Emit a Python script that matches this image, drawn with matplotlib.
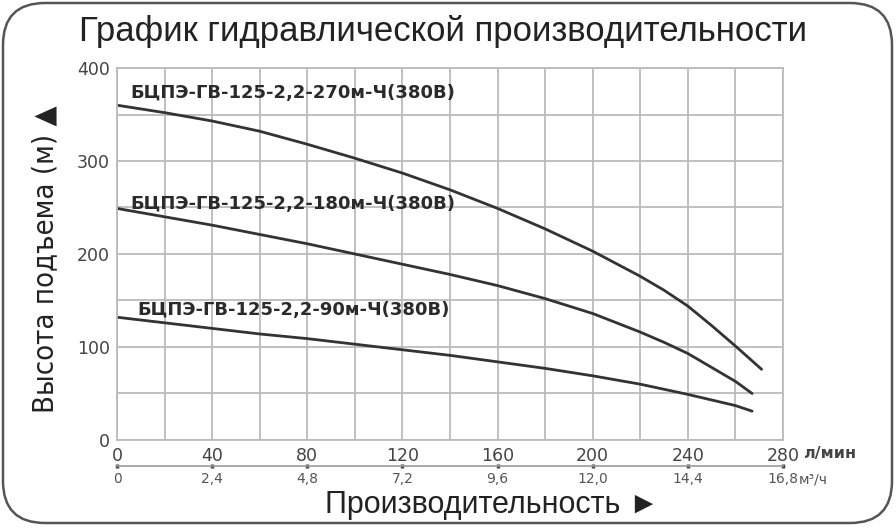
import matplotlib.pyplot as plt
from matplotlib.patches import FancyBboxPatch

# расход, л/мин  и  напор, м
q_270 = [0, 20, 40, 60, 80, 100, 120, 140, 160, 180, 200, 220, 230, 240, 250, 260, 271]
h_270 = [360, 352, 343, 332, 318, 303, 287, 269, 249, 227, 203, 176, 161, 144, 123, 101, 76]

q_180 = [0, 20, 40, 60, 80, 100, 120, 140, 160, 180, 200, 220, 230, 240, 250, 260, 267]
h_180 = [249, 240, 231, 221, 211, 200, 189, 178, 166, 152, 136, 116, 105, 93, 78, 63, 50]

q_90 = [0, 20, 40, 60, 80, 100, 120, 140, 160, 180, 200, 220, 240, 250, 260, 267]
h_90 = [132, 126, 120, 114, 109, 103, 97, 91, 84, 77, 69, 60, 49, 43, 37, 31]

names = ["БЦПЭ-ГВ-125-2,2-270м-Ч(380В)",
         "БЦПЭ-ГВ-125-2,2-180м-Ч(380В)",
         "БЦПЭ-ГВ-125-2,2-90м-Ч(380В)"]
name_pos = [(5.5, 373), (5.5, 254), (8.5, 140)]

x_ticks = list(range(0, 281, 20))
y_ticks = list(range(0, 401, 50))
m3_ticks = [0, 2.4, 4.8, 7.2, 9.6, 12.0, 14.4, 16.8]
m3_labels = ["0", "2,4", "4,8", "7,2", "9,6", "12,0", "14,4", "16,8"]

fig = plt.figure(figsize=(8.96, 5.28), dpi=100)

# рамка со скруглёнными углами
bg = fig.add_axes([0, 0, 1, 1])
bg.set_xlim(0, 896)
bg.set_ylim(528, 0)
bg.axis("off")
bg.add_patch(FancyBboxPatch((3, 3), 889, 520, boxstyle="round,pad=0,rounding_size=42",
                            fc="white", ec="#555555", lw=1.8))

ax = fig.add_axes([0.1306, 0.1667, 0.7433, 0.7045])
ax.set_facecolor("white")

for q, h in [(q_270, h_270), (q_180, h_180), (q_90, h_90)]:
    ax.plot(q, h, color="#333333", lw=2.0, solid_capstyle="round", solid_joinstyle="round")

for name, (x, y) in zip(names, name_pos):
    ax.text(x, y, name, fontsize=13, fontweight="bold", color="#2a2a2a", va="center", ha="left")

ax.set_xlim(0, 280)
ax.set_ylim(0, 400)
ax.set_xticks(x_ticks, [str(v) if v % 40 == 0 else "" for v in x_ticks])
ax.set_yticks(y_ticks, [str(v) if v % 100 == 0 else "" for v in y_ticks])
ax.grid(True, color="#bbbbbb", lw=1.3)
ax.set_axisbelow(True)
for s in ax.spines.values():
    s.set_color("#bbbbbb")
    s.set_linewidth(1.3)
ax.tick_params(length=0, labelsize=12.5, labelcolor="#444444", pad=5)

ax.text(1.03, -0.035, "л/мин", transform=ax.transAxes, fontsize=11.5, fontweight="bold",
        color="#444444", ha="left", va="center")

# вторая шкала м³/ч
sec = ax.secondary_xaxis(-0.07, functions=(lambda q: q * 0.06, lambda m: m / 0.06))
sec.set_xticks(m3_ticks, m3_labels)
sec.spines["bottom"].set_color("#999999")
sec.spines["bottom"].set_linewidth(1.2)
sec.tick_params(length=3, width=2.5, direction="inout", color="#444444",
                labelsize=10, labelcolor="#555555", pad=3)
ax.text(1.024, -0.106, "м³/ч", transform=ax.transAxes, fontsize=10,
        color="#555555", ha="left", va="center")

fig.text(0.494, 0.94, "График гидравлической производительности", fontsize=25,
         family="Liberation Sans", color="#222222", ha="center", va="center")
fig.text(0.05, 0.51, "Высота подъема (м) ▲", fontsize=21, rotation=90,
         family="DejaVu Sans", fontstretch="condensed", color="#222222",
         ha="center", va="center")
fig.text(0.549, 0.043, "Производительность ►", fontsize=22,
         family=["Liberation Sans", "DejaVu Sans"], color="#222222",
         ha="center", va="center")

fig.savefig("out.png", dpi=100)
